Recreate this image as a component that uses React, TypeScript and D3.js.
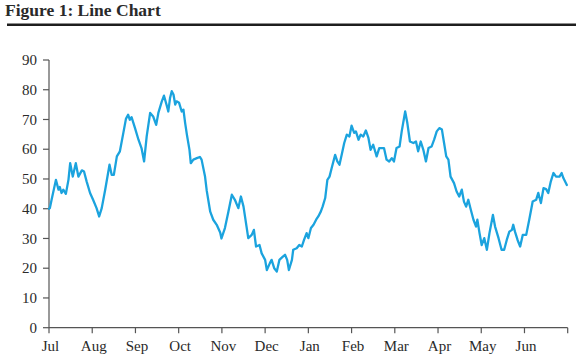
import React from "react";
import * as d3 from "d3";

const monthLabels = ["Jul", "Aug", "Sep", "Oct", "Nov", "Dec", "Jan", "Feb", "Mar", "Apr", "May", "Jun", ""];
const yTicks = [0, 10, 20, 30, 40, 50, 60, 70, 80, 90];

// x position as fractional months since Jul 1
const monthPos = [
  0, 0.02, 0.06, 0.16, 0.22, 0.25, 0.29, 0.33, 0.39, 0.45, 0.49, 0.55, 0.62, 0.68, 0.76, 0.81, 0.87, 0.95,
  1.02, 1.1, 1.16, 1.22, 1.3, 1.4, 1.45, 1.5, 1.57, 1.64, 1.72, 1.78, 1.83, 1.87, 1.91, 1.99,
  2.07, 2.14, 2.2, 2.26, 2.34, 2.41, 2.48, 2.53, 2.61, 2.66, 2.73, 2.76, 2.8, 2.84, 2.88, 2.92, 2.95,
  3.01, 3.07, 3.11, 3.15, 3.19, 3.25, 3.28, 3.34, 3.42, 3.49, 3.53, 3.61, 3.65, 3.73, 3.8, 3.88, 3.96, 3.99,
  4.07, 4.15, 4.23, 4.3, 4.38, 4.44, 4.5, 4.57, 4.61, 4.69, 4.74, 4.79, 4.87, 4.92,
  5.0, 5.04, 5.11, 5.15, 5.21, 5.27, 5.33, 5.41, 5.46, 5.51, 5.55, 5.62, 5.65, 5.73, 5.79, 5.85, 5.9, 5.96,
  6.0, 6.06, 6.12, 6.18, 6.23, 6.29, 6.33, 6.39, 6.44, 6.49, 6.54, 6.62, 6.67, 6.72, 6.77, 6.83, 6.89, 6.95,
  7.0, 7.06, 7.1, 7.16, 7.21, 7.27, 7.33, 7.39, 7.44, 7.5, 7.58, 7.64, 7.7, 7.75, 7.81, 7.87, 7.93, 7.98,
  8.04, 8.11, 8.16, 8.24, 8.29, 8.35, 8.43, 8.49, 8.54, 8.6, 8.66, 8.72, 8.78, 8.85, 8.91, 8.97,
  9.03, 9.09, 9.14, 9.19, 9.24, 9.29, 9.37, 9.43, 9.49, 9.55, 9.6, 9.65, 9.7, 9.76, 9.82, 9.88, 9.91, 9.96,
  10.01, 10.07, 10.13, 10.19, 10.27, 10.32, 10.4, 10.47, 10.53, 10.59, 10.65, 10.71, 10.74, 10.78, 10.84, 10.9, 10.96,
  11.04, 11.11, 11.19, 11.27, 11.32, 11.38, 11.44, 11.5, 11.55, 11.61, 11.67, 11.73, 11.81, 11.86, 11.9, 11.98,
];

const values = [
  40, 40.2, 43, 49.7, 46.4, 47.3, 45.3, 46.4, 45, 49.7, 55.3, 50.8, 55.3, 50.8, 52.9, 52.5, 49.2, 45.3,
  43, 40.2, 37.4, 40.2, 46.4, 54.8, 51.4, 51.4, 57.6, 59.3, 65.5, 70.2, 71.6, 69.9, 70.8, 67.1,
  63.2, 60.4, 55.9, 64.3, 72.2, 71, 68.2, 72.2, 76.1, 78, 74.4, 72.7, 77.2, 79.5, 78.4, 75, 76.1,
  75.6, 72.7, 73.3, 68.8, 64.9, 59.8, 55.3, 56.5, 57, 57.4, 56.5, 50.8, 46, 39, 36.3, 34.6, 32, 30,
  33.5, 39, 44.7, 43, 40.2, 44.1, 40.7, 34, 30.1, 31.2, 32.9, 27.3, 27.8, 25,
  22.8, 19.4, 21.7, 22.8, 20, 18.9, 22.8, 23.9, 24.5, 22.8, 19.4, 22.8, 26.2, 26.7, 27.8, 27.3, 29.5, 31.8,
  30.1, 33.5, 34.6, 36.3, 37.4, 39.1, 40.7, 43.6, 49.7, 50.8, 53.7, 58.1, 55.9, 54.8, 58.1, 62.1, 64.9, 64.3,
  67.9, 65.5, 66, 63.2, 64.9, 64.3, 66.3, 63.8, 59.8, 61.5, 57.6, 60.4, 60.4, 60.4, 56.5, 55.9, 57, 55.9,
  60.4, 60.9, 66, 72.7, 68.8, 62.6, 62.1, 62.6, 59.3, 62.6, 59.8, 55.9, 60.4, 60.9, 63.2, 66,
  67.1, 66.6, 62.1, 57.6, 56.5, 50.8, 48.6, 45.8, 44.1, 46.4, 42.4, 40.7, 43, 39.6, 36.3, 34, 36.3, 31.8,
  27.8, 30.1, 26.2, 31.8, 37.9, 34, 30.1, 26.2, 26.2, 29.5, 32.3, 32.9, 34.6, 32.3, 29.5, 27.3, 31.2,
  31.2, 36.3, 42.4, 43, 45.3, 41.9, 46.9, 46.6, 45.3, 49.2, 52, 50.8, 50.8, 52, 50.3, 48,
];

const W = 576;
const H = 360;
const left = 49;
const right = 567.7;
const top = 60;
const bottom = 327.7;
const font = "'Liberation Serif', 'DejaVu Serif', serif";
const axisColor = "#555";
const textColor = "#2a2a2a";

export default function App() {
  const x = d3.scaleLinear().domain([0, 12]).range([left, right]);
  const y = d3.scaleLinear().domain([0, 90]).range([bottom, top]);
  const data = monthPos.map((m, i) => ({ m, v: values[i] }));
  const line = d3
    .line<{ m: number; v: number }>()
    .x((d) => x(d.m))
    .y((d) => y(d.v))
    .curve(d3.curveLinear);

  return (
    <svg
      width={W}
      height={H}
      style={{ position: "absolute", left: 0, top: 0, background: "#fff" }}
    >
      <text x={5} y={16} fontFamily={font} fontSize={17.5} fontWeight={600} fill={textColor}>
        Figure 1: Line Chart
      </text>
      <line x1={7} x2={576} y1={24.8} y2={24.8} stroke="#1e1e1e" strokeWidth={2.4} />

      {/* y axis */}
      <line x1={left} x2={left} y1={y(0)} y2={y(90)} stroke={axisColor} strokeWidth={1.2} />
      {yTicks.map((t) => (
        <g key={t}>
          <line x1={left - 6} x2={left} y1={y(t)} y2={y(t)} stroke={axisColor} strokeWidth={1.2} />
          <text
            x={37}
            y={y(t)}
            dy="0.35em"
            textAnchor="end"
            fontFamily={font}
            fontSize={15}
            fill={textColor}
          >
            {t}
          </text>
        </g>
      ))}

      {/* x axis */}
      <line x1={left} x2={right} y1={bottom} y2={bottom} stroke={axisColor} strokeWidth={1.2} />
      {monthLabels.map((lab, i) => (
        <g key={i}>
          <line x1={x(i)} x2={x(i)} y1={bottom} y2={bottom + 5.5} stroke={axisColor} strokeWidth={1.2} />
          {lab && (
            <text
              x={x(i) + 1.5}
              y={351}
              textAnchor="middle"
              fontFamily={font}
              fontSize={15}
              fill={textColor}
            >
              {lab}
            </text>
          )}
        </g>
      ))}

      <path
        d={line(data) ?? ""}
        fill="none"
        stroke="#1ba3de"
        strokeWidth={2.3}
        strokeLinejoin="round"
        strokeLinecap="round"
      />
    </svg>
  );
}
